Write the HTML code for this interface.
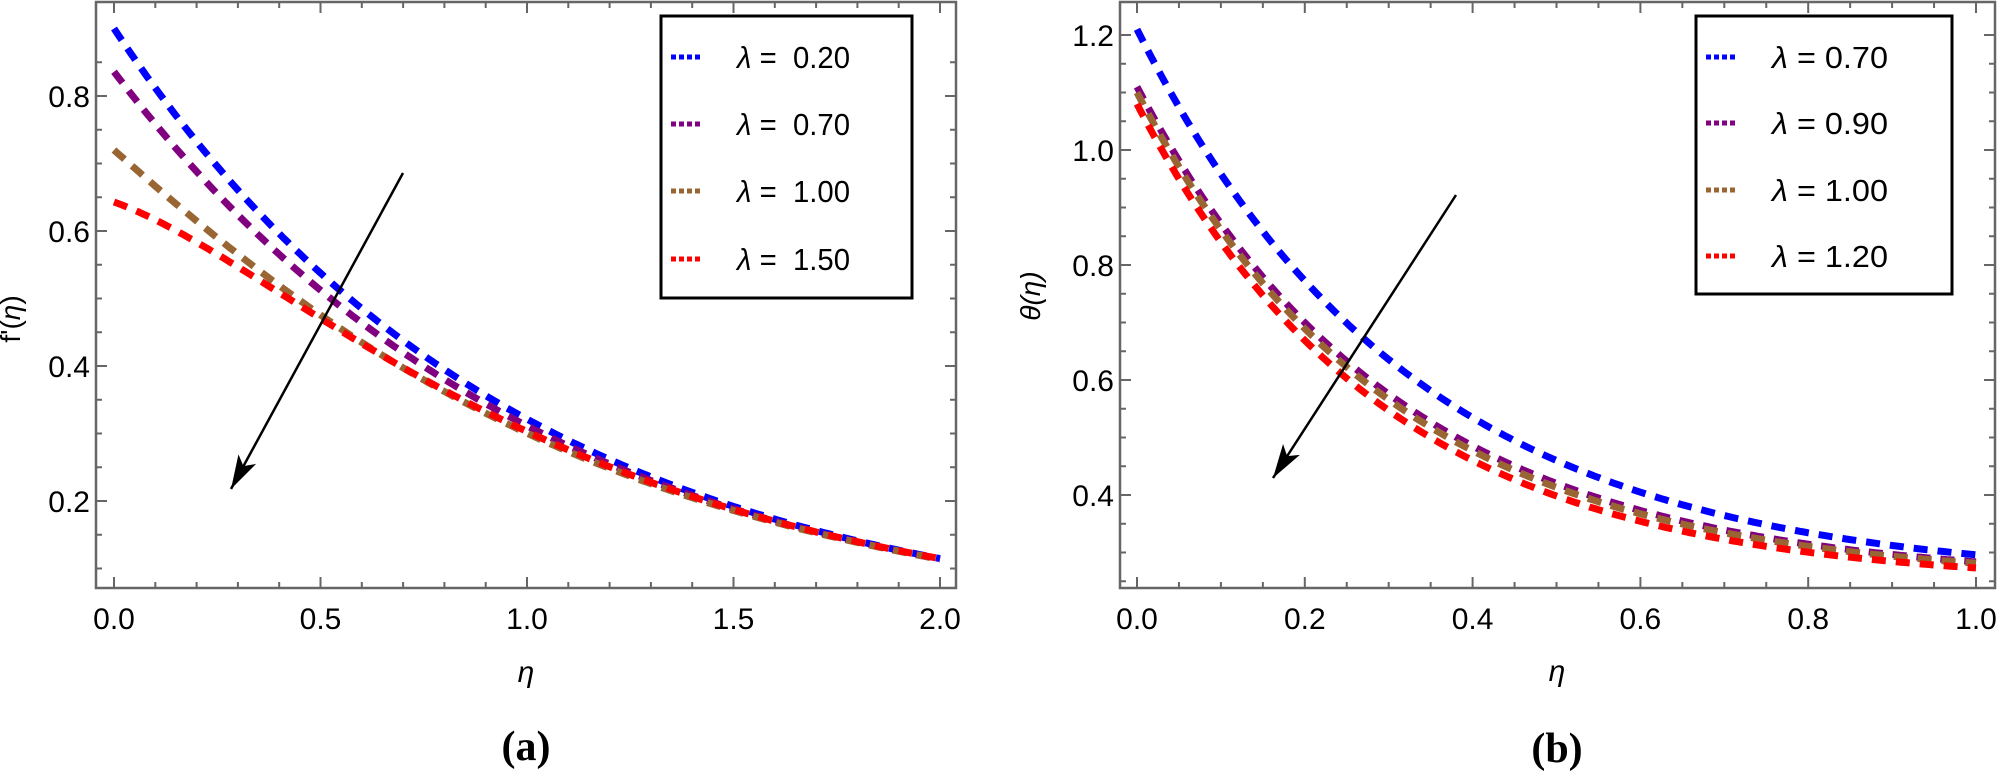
<!DOCTYPE html>
<html><head><meta charset="utf-8">
<style>
html,body{margin:0;padding:0;background:#fff;}
svg{display:block;}
text{font-family:"Liberation Sans",sans-serif;}
</style></head>
<body>
<svg id="s" width="2000" height="776" viewBox="0 0 2000 776" xmlns="http://www.w3.org/2000/svg">
<rect width="2000" height="776" fill="#fff"/>
<g id="g"></g>
<text x="20" y="319" font-size="28" text-anchor="middle" transform="rotate(-90 20 319)">f'(<tspan font-style="italic">η</tspan>)</text>
<text x="526" y="682" font-size="30" font-style="italic" text-anchor="middle">η</text>
<text x="526" y="760" font-size="42" font-weight="bold" text-anchor="middle" style="font-family:'Liberation Serif',serif">(a)</text>
<text x="1040" y="296" font-size="28" text-anchor="middle" font-style="italic" transform="rotate(-90 1040 296)">θ(η)</text>
<text x="1557" y="681" font-size="30" font-style="italic" text-anchor="middle">η</text>
<text x="1557" y="762" font-size="42" font-weight="bold" text-anchor="middle" style="font-family:'Liberation Serif',serif">(b)</text>
</svg>
<script>
var g=document.getElementById('g'),h='';
function ln(x1,y1,x2,y2,c,w){h+='<line x1="'+x1+'" y1="'+y1+'" x2="'+x2+'" y2="'+y2+'" stroke="'+c+'" stroke-width="'+w+'"/>';}
function tx(x,y,t,a,fs){h+='<text x="'+x+'" y="'+y+'" font-size="'+(fs||30)+'" text-anchor="'+a+'">'+t+'</text>';}
function plot(P){
 var X=P.X,Y=P.Y;
 P.curves.forEach(function(c){
  var d='';
  for(var i=0;i<=200;i++){var x=P.x0+(P.x1-P.x0)*i/200;var px=X(x),py=Y(c.f(x));d+=(i?'L':'M')+px.toFixed(1)+' '+py.toFixed(1);}
  h+='<path d="'+d+'" fill="none" stroke="'+c.c+'" stroke-width="7" stroke-dasharray="14 10"/>';
 });
 h+='<rect x="'+P.L+'" y="2" width="'+(P.R-P.L)+'" height="'+(P.B-2)+'" fill="none" stroke="#666" stroke-width="2.5"/>';
 for(var i=0;i<=P.nx;i++){var v=P.x0+i*P.dx,px=X(v),maj=(i%P.mx==0),l=maj?11:6;
  ln(px,P.B,px,P.B-l,'#666',2);ln(px,2,px,2+l,'#666',2);
  if(maj)tx(px,629,v.toFixed(1),'middle');}
 P.yt.forEach(function(t){var py=Y(t[0]),l=t[1]?11:6;
  ln(P.L,py,P.L+l,py,'#666',2);ln(P.R,py,P.R-l,py,'#666',2);
  if(t[1])tx(P.L-6,py+11,t[0].toFixed(1),'end');});
 var a=P.arrow;ln(a[0],a[1],a[2],a[3],'#000',2.5);
 var dx=a[2]-a[0],dy=a[3]-a[1],L=Math.hypot(dx,dy),ux=dx/L,uy=dy/L,bx=a[2]-ux*34,by=a[3]-uy*34;
 h+='<polygon points="'+a[2]+','+a[3]+' '+(bx-uy*10)+','+(by+ux*10)+' '+(bx+ux*8)+','+(by+uy*8)+' '+(bx+uy*10)+','+(by-ux*10)+'" fill="#000"/>';
 var lg=P.leg;h+='<rect x="'+lg.x+'" y="'+lg.y+'" width="'+lg.w+'" height="'+lg.h+'" fill="#fff" stroke="#000" stroke-width="3"/>';
 P.curves.forEach(function(c,i){var yy=lg.ys[i];
  h+='<line x1="'+(lg.x+10)+'" y1="'+yy+'" x2="'+(lg.x+39)+'" y2="'+yy+'" stroke="'+c.c+'" stroke-width="5" stroke-dasharray="5 3"/>';
  h+='<text x="'+lg.tx+'" y="'+(yy+11)+'" font-size="31" textLength="'+lg.tl+'" lengthAdjust="spacingAndGlyphs"><tspan font-style="italic">λ</tspan> ='+lg.sp+c.n+'</text>';});
}
var E=Math.exp;
plot({L:96,R:956,B:588,x0:0,x1:2,nx:20,dx:0.1,mx:5,
 X:function(x){return 114+413*x;},Y:function(v){return 96+(0.8-v)*675;},
 yt:(function(){var a=[];for(var k=0;k<16;k++){var v=0.1+k*0.05;var r=Math.round(v*100);a.push([v,r%20==0]);}return a;})(),
 curves:[
  {c:'#0000ff',n:'0.20',f:function(x){return 0.9*E(-1.03*x);}},
  {c:'#800080',n:'0.70',f:function(x){return 0.88*E(-1.02*x)-0.044*E(-2*x);}},
  {c:'#996633',n:'1.00',f:function(x){return 0.85*E(-x)-0.13*E(-2.36*x);}},
  {c:'#ff0000',n:'1.50',f:function(x){return 0.85*E(-x)-0.207*E(-3.05*x);}}],
 arrow:[403,173,231,489],
 leg:{x:661,y:16,w:251,h:282,ys:[57,124,191,259],tx:737,tl:113,sp:'\u00a0 '}});
plot({L:1120,R:1995,B:588,x0:0,x1:1,nx:20,dx:0.05,mx:4,
 X:function(x){return 1137+839*x;},Y:function(v){return 495-(v-0.4)*575;},
 yt:(function(){var a=[];for(var k=0;k<20;k++){var v=0.25+k*0.05;var r=Math.round(v*100);a.push([v,r%20==0]);}return a;})(),
 curves:[
  {c:'#0000ff',n:'0.70',f:function(x){return 0.25+0.96*E(-3.04*x);}},
  {c:'#800080',n:'0.90',f:function(x){return 0.25+0.86*E(-3.24*x);}},
  {c:'#996633',n:'1.00',f:function(x){return 0.25+0.85*E(-3.3*x);}},
  {c:'#ff0000',n:'1.20',f:function(x){return 0.245+0.835*E(-3.39*x);}}],
 arrow:[1456,195,1273,478],
 leg:{x:1696,y:16,w:256,h:278,ys:[57,123,190,256],tx:1772,tl:116,sp:' '}});
g.innerHTML=h;
</script>
</body></html>
